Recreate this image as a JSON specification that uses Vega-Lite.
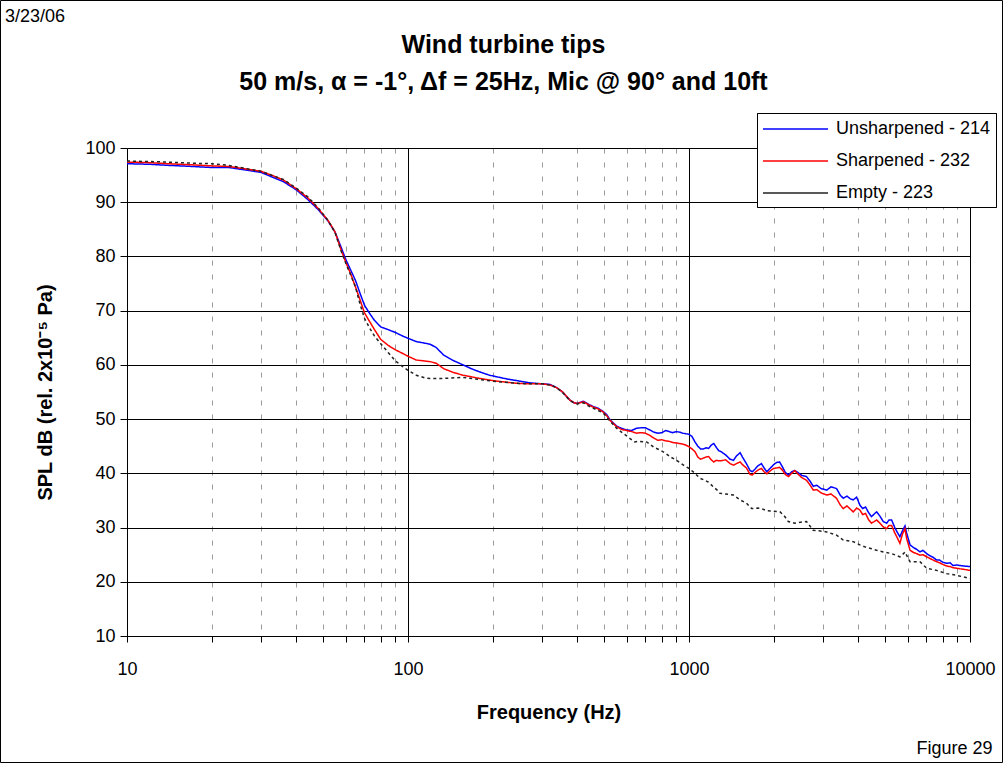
{
 "$schema": "https://vega.github.io/schema/vega-lite/v6.json",
 "width": 843,
 "height": 488,
 "autosize": {"type": "none"},
 "padding": {"left": 127, "top": 148, "right": 33, "bottom": 127},
 "background": "white",
 "config": {"view": {"stroke": null}, "font": "Liberation Sans"},
 "title": {"text": "3/23/06", "anchor": "start", "frame": "group", "dx": -122, "offset": -25, "fontSize": 18, "fontWeight": "normal", "color": "#000", "font": "Liberation Sans"},
 "data": {"values": [
{"s":"Unsharpened - 214","f":10,"dB":97.1},{"s":"Unsharpened - 214","f":12,"dB":97.0},{"s":"Unsharpened - 214","f":14,"dB":96.8},{"s":"Unsharpened - 214","f":17,"dB":96.6},{"s":"Unsharpened - 214","f":20,"dB":96.4},{"s":"Unsharpened - 214","f":23,"dB":96.4},{"s":"Unsharpened - 214","f":26,"dB":96.0},{"s":"Unsharpened - 214","f":30,"dB":95.5},{"s":"Unsharpened - 214","f":33,"dB":94.6},{"s":"Unsharpened - 214","f":36,"dB":93.8},{"s":"Unsharpened - 214","f":40,"dB":92.3},{"s":"Unsharpened - 214","f":44,"dB":90.5},{"s":"Unsharpened - 214","f":48,"dB":88.6},{"s":"Unsharpened - 214","f":52,"dB":86.5},{"s":"Unsharpened - 214","f":55,"dB":84.5},{"s":"Unsharpened - 214","f":58,"dB":81.5},{"s":"Unsharpened - 214","f":60,"dB":79.5},{"s":"Unsharpened - 214","f":62.5,"dB":77.5},{"s":"Unsharpened - 214","f":65,"dB":75.6},{"s":"Unsharpened - 214","f":67.5,"dB":73.2},{"s":"Unsharpened - 214","f":70,"dB":71.0},{"s":"Unsharpened - 214","f":73,"dB":69.5},{"s":"Unsharpened - 214","f":76,"dB":68.2},{"s":"Unsharpened - 214","f":80,"dB":67.0},{"s":"Unsharpened - 214","f":85,"dB":66.5},{"s":"Unsharpened - 214","f":90,"dB":66.0},{"s":"Unsharpened - 214","f":95,"dB":65.4},{"s":"Unsharpened - 214","f":100,"dB":64.9},{"s":"Unsharpened - 214","f":107,"dB":64.3},{"s":"Unsharpened - 214","f":115,"dB":64.0},{"s":"Unsharpened - 214","f":120,"dB":63.8},{"s":"Unsharpened - 214","f":126,"dB":63.2},{"s":"Unsharpened - 214","f":134,"dB":61.8},{"s":"Unsharpened - 214","f":145,"dB":60.8},{"s":"Unsharpened - 214","f":157,"dB":60.0},{"s":"Unsharpened - 214","f":168,"dB":59.3},{"s":"Unsharpened - 214","f":180,"dB":58.7},{"s":"Unsharpened - 214","f":195,"dB":58.1},{"s":"Unsharpened - 214","f":207,"dB":57.8},{"s":"Unsharpened - 214","f":225,"dB":57.4},{"s":"Unsharpened - 214","f":244,"dB":57.1},{"s":"Unsharpened - 214","f":270,"dB":56.7},{"s":"Unsharpened - 214","f":300,"dB":56.5},{"s":"Unsharpened - 214","f":320,"dB":56.4},{"s":"Unsharpened - 214","f":338,"dB":55.8},{"s":"Unsharpened - 214","f":355,"dB":55.0},{"s":"Unsharpened - 214","f":377,"dB":53.5},{"s":"Unsharpened - 214","f":390,"dB":53.0},{"s":"Unsharpened - 214","f":400,"dB":52.9},{"s":"Unsharpened - 214","f":421,"dB":53.3},{"s":"Unsharpened - 214","f":440,"dB":52.7},{"s":"Unsharpened - 214","f":457,"dB":52.3},{"s":"Unsharpened - 214","f":475,"dB":52.0},{"s":"Unsharpened - 214","f":495,"dB":51.4},{"s":"Unsharpened - 214","f":510,"dB":50.8},{"s":"Unsharpened - 214","f":523,"dB":49.9},{"s":"Unsharpened - 214","f":540,"dB":49.2},{"s":"Unsharpened - 214","f":553,"dB":48.7},{"s":"Unsharpened - 214","f":575,"dB":48.3},{"s":"Unsharpened - 214","f":600,"dB":48.0},{"s":"Unsharpened - 214","f":625,"dB":47.9},{"s":"Unsharpened - 214","f":650,"dB":48.3},{"s":"Unsharpened - 214","f":675,"dB":48.4},{"s":"Unsharpened - 214","f":700,"dB":48.4},{"s":"Unsharpened - 214","f":725,"dB":48.0},{"s":"Unsharpened - 214","f":750,"dB":47.6},{"s":"Unsharpened - 214","f":775,"dB":47.4},{"s":"Unsharpened - 214","f":800,"dB":47.5},{"s":"Unsharpened - 214","f":825,"dB":47.9},{"s":"Unsharpened - 214","f":850,"dB":47.7},{"s":"Unsharpened - 214","f":875,"dB":47.5},{"s":"Unsharpened - 214","f":900,"dB":47.7},{"s":"Unsharpened - 214","f":925,"dB":47.6},{"s":"Unsharpened - 214","f":950,"dB":47.4},{"s":"Unsharpened - 214","f":975,"dB":47.3},{"s":"Unsharpened - 214","f":1000,"dB":47.2},{"s":"Unsharpened - 214","f":1025,"dB":46.8},{"s":"Unsharpened - 214","f":1050,"dB":45.8},{"s":"Unsharpened - 214","f":1075,"dB":45.0},{"s":"Unsharpened - 214","f":1100,"dB":44.5},{"s":"Unsharpened - 214","f":1125,"dB":44.5},{"s":"Unsharpened - 214","f":1150,"dB":44.7},{"s":"Unsharpened - 214","f":1175,"dB":44.6},{"s":"Unsharpened - 214","f":1200,"dB":45.2},{"s":"Unsharpened - 214","f":1225,"dB":45.5},{"s":"Unsharpened - 214","f":1250,"dB":44.8},{"s":"Unsharpened - 214","f":1275,"dB":44.2},{"s":"Unsharpened - 214","f":1300,"dB":44.0},{"s":"Unsharpened - 214","f":1350,"dB":43.4},{"s":"Unsharpened - 214","f":1400,"dB":42.6},{"s":"Unsharpened - 214","f":1440,"dB":42.4},{"s":"Unsharpened - 214","f":1475,"dB":43.2},{"s":"Unsharpened - 214","f":1520,"dB":43.8},{"s":"Unsharpened - 214","f":1550,"dB":43.0},{"s":"Unsharpened - 214","f":1600,"dB":41.8},{"s":"Unsharpened - 214","f":1650,"dB":40.5},{"s":"Unsharpened - 214","f":1680,"dB":40.3},{"s":"Unsharpened - 214","f":1720,"dB":40.8},{"s":"Unsharpened - 214","f":1760,"dB":41.4},{"s":"Unsharpened - 214","f":1810,"dB":41.8},{"s":"Unsharpened - 214","f":1850,"dB":41.0},{"s":"Unsharpened - 214","f":1890,"dB":40.3},{"s":"Unsharpened - 214","f":1950,"dB":41.0},{"s":"Unsharpened - 214","f":2000,"dB":41.6},{"s":"Unsharpened - 214","f":2050,"dB":42.0},{"s":"Unsharpened - 214","f":2100,"dB":42.1},{"s":"Unsharpened - 214","f":2150,"dB":41.2},{"s":"Unsharpened - 214","f":2200,"dB":40.2},{"s":"Unsharpened - 214","f":2260,"dB":39.7},{"s":"Unsharpened - 214","f":2320,"dB":40.3},{"s":"Unsharpened - 214","f":2380,"dB":40.5},{"s":"Unsharpened - 214","f":2450,"dB":40.1},{"s":"Unsharpened - 214","f":2520,"dB":39.6},{"s":"Unsharpened - 214","f":2620,"dB":39.4},{"s":"Unsharpened - 214","f":2700,"dB":38.5},{"s":"Unsharpened - 214","f":2770,"dB":37.6},{"s":"Unsharpened - 214","f":2850,"dB":37.8},{"s":"Unsharpened - 214","f":2950,"dB":37.2},{"s":"Unsharpened - 214","f":3090,"dB":36.9},{"s":"Unsharpened - 214","f":3200,"dB":37.5},{"s":"Unsharpened - 214","f":3350,"dB":37.2},{"s":"Unsharpened - 214","f":3450,"dB":36.0},{"s":"Unsharpened - 214","f":3540,"dB":35.4},{"s":"Unsharpened - 214","f":3650,"dB":35.8},{"s":"Unsharpened - 214","f":3750,"dB":35.3},{"s":"Unsharpened - 214","f":3840,"dB":35.1},{"s":"Unsharpened - 214","f":3950,"dB":35.6},{"s":"Unsharpened - 214","f":4060,"dB":34.1},{"s":"Unsharpened - 214","f":4150,"dB":33.5},{"s":"Unsharpened - 214","f":4250,"dB":33.8},{"s":"Unsharpened - 214","f":4350,"dB":32.8},{"s":"Unsharpened - 214","f":4460,"dB":32.0},{"s":"Unsharpened - 214","f":4560,"dB":32.5},{"s":"Unsharpened - 214","f":4655,"dB":32.9},{"s":"Unsharpened - 214","f":4780,"dB":32.1},{"s":"Unsharpened - 214","f":4915,"dB":31.1},{"s":"Unsharpened - 214","f":5050,"dB":30.8},{"s":"Unsharpened - 214","f":5150,"dB":31.4},{"s":"Unsharpened - 214","f":5260,"dB":31.4},{"s":"Unsharpened - 214","f":5400,"dB":30.0},{"s":"Unsharpened - 214","f":5500,"dB":29.2},{"s":"Unsharpened - 214","f":5630,"dB":28.3},{"s":"Unsharpened - 214","f":5750,"dB":29.4},{"s":"Unsharpened - 214","f":5870,"dB":30.3},{"s":"Unsharpened - 214","f":5950,"dB":29.0},{"s":"Unsharpened - 214","f":6120,"dB":26.8},{"s":"Unsharpened - 214","f":6300,"dB":26.3},{"s":"Unsharpened - 214","f":6450,"dB":26.0},{"s":"Unsharpened - 214","f":6640,"dB":25.5},{"s":"Unsharpened - 214","f":6800,"dB":25.8},{"s":"Unsharpened - 214","f":7010,"dB":25.2},{"s":"Unsharpened - 214","f":7200,"dB":24.8},{"s":"Unsharpened - 214","f":7400,"dB":24.5},{"s":"Unsharpened - 214","f":7610,"dB":24.0},{"s":"Unsharpened - 214","f":7800,"dB":24.0},{"s":"Unsharpened - 214","f":8000,"dB":23.6},{"s":"Unsharpened - 214","f":8260,"dB":23.4},{"s":"Unsharpened - 214","f":8500,"dB":23.5},{"s":"Unsharpened - 214","f":8700,"dB":23.0},{"s":"Unsharpened - 214","f":8960,"dB":23.1},{"s":"Unsharpened - 214","f":9200,"dB":23.0},{"s":"Unsharpened - 214","f":9500,"dB":22.9},{"s":"Unsharpened - 214","f":10000,"dB":22.8},
{"s":"Sharpened - 232","f":10,"dB":97.4},{"s":"Sharpened - 232","f":12,"dB":97.3},{"s":"Sharpened - 232","f":14,"dB":97.1},{"s":"Sharpened - 232","f":17,"dB":96.9},{"s":"Sharpened - 232","f":20,"dB":96.7},{"s":"Sharpened - 232","f":23,"dB":96.6},{"s":"Sharpened - 232","f":26,"dB":96.2},{"s":"Sharpened - 232","f":30,"dB":95.7},{"s":"Sharpened - 232","f":33,"dB":94.9},{"s":"Sharpened - 232","f":36,"dB":94.1},{"s":"Sharpened - 232","f":40,"dB":92.5},{"s":"Sharpened - 232","f":44,"dB":90.8},{"s":"Sharpened - 232","f":48,"dB":88.8},{"s":"Sharpened - 232","f":52,"dB":86.6},{"s":"Sharpened - 232","f":55,"dB":84.5},{"s":"Sharpened - 232","f":58,"dB":81.0},{"s":"Sharpened - 232","f":60,"dB":79.0},{"s":"Sharpened - 232","f":62.5,"dB":76.8},{"s":"Sharpened - 232","f":65,"dB":74.4},{"s":"Sharpened - 232","f":67.5,"dB":72.0},{"s":"Sharpened - 232","f":70,"dB":69.6},{"s":"Sharpened - 232","f":73,"dB":68.0},{"s":"Sharpened - 232","f":76,"dB":66.5},{"s":"Sharpened - 232","f":80,"dB":64.7},{"s":"Sharpened - 232","f":85,"dB":63.6},{"s":"Sharpened - 232","f":90,"dB":62.8},{"s":"Sharpened - 232","f":95,"dB":62.2},{"s":"Sharpened - 232","f":100,"dB":61.6},{"s":"Sharpened - 232","f":107,"dB":60.9},{"s":"Sharpened - 232","f":115,"dB":60.7},{"s":"Sharpened - 232","f":120,"dB":60.6},{"s":"Sharpened - 232","f":126,"dB":60.3},{"s":"Sharpened - 232","f":134,"dB":59.3},{"s":"Sharpened - 232","f":145,"dB":58.6},{"s":"Sharpened - 232","f":157,"dB":58.1},{"s":"Sharpened - 232","f":168,"dB":57.8},{"s":"Sharpened - 232","f":180,"dB":57.5},{"s":"Sharpened - 232","f":195,"dB":57.2},{"s":"Sharpened - 232","f":207,"dB":57.0},{"s":"Sharpened - 232","f":225,"dB":56.8},{"s":"Sharpened - 232","f":244,"dB":56.6},{"s":"Sharpened - 232","f":270,"dB":56.5},{"s":"Sharpened - 232","f":300,"dB":56.5},{"s":"Sharpened - 232","f":320,"dB":56.3},{"s":"Sharpened - 232","f":338,"dB":55.8},{"s":"Sharpened - 232","f":355,"dB":55.0},{"s":"Sharpened - 232","f":377,"dB":53.5},{"s":"Sharpened - 232","f":390,"dB":53.0},{"s":"Sharpened - 232","f":400,"dB":52.9},{"s":"Sharpened - 232","f":421,"dB":53.2},{"s":"Sharpened - 232","f":440,"dB":52.6},{"s":"Sharpened - 232","f":457,"dB":52.2},{"s":"Sharpened - 232","f":475,"dB":51.9},{"s":"Sharpened - 232","f":495,"dB":51.3},{"s":"Sharpened - 232","f":510,"dB":50.6},{"s":"Sharpened - 232","f":523,"dB":49.8},{"s":"Sharpened - 232","f":540,"dB":49.1},{"s":"Sharpened - 232","f":553,"dB":48.6},{"s":"Sharpened - 232","f":575,"dB":48.1},{"s":"Sharpened - 232","f":600,"dB":47.9},{"s":"Sharpened - 232","f":625,"dB":47.7},{"s":"Sharpened - 232","f":650,"dB":47.4},{"s":"Sharpened - 232","f":675,"dB":47.5},{"s":"Sharpened - 232","f":700,"dB":47.4},{"s":"Sharpened - 232","f":725,"dB":47.0},{"s":"Sharpened - 232","f":750,"dB":46.5},{"s":"Sharpened - 232","f":775,"dB":46.1},{"s":"Sharpened - 232","f":800,"dB":46.2},{"s":"Sharpened - 232","f":825,"dB":46.0},{"s":"Sharpened - 232","f":850,"dB":45.9},{"s":"Sharpened - 232","f":875,"dB":45.7},{"s":"Sharpened - 232","f":900,"dB":45.6},{"s":"Sharpened - 232","f":925,"dB":45.5},{"s":"Sharpened - 232","f":950,"dB":45.4},{"s":"Sharpened - 232","f":975,"dB":45.2},{"s":"Sharpened - 232","f":1000,"dB":44.9},{"s":"Sharpened - 232","f":1025,"dB":44.5},{"s":"Sharpened - 232","f":1050,"dB":44.0},{"s":"Sharpened - 232","f":1075,"dB":43.0},{"s":"Sharpened - 232","f":1100,"dB":42.6},{"s":"Sharpened - 232","f":1125,"dB":42.8},{"s":"Sharpened - 232","f":1150,"dB":43.0},{"s":"Sharpened - 232","f":1175,"dB":43.1},{"s":"Sharpened - 232","f":1200,"dB":42.5},{"s":"Sharpened - 232","f":1225,"dB":42.1},{"s":"Sharpened - 232","f":1250,"dB":42.4},{"s":"Sharpened - 232","f":1275,"dB":42.3},{"s":"Sharpened - 232","f":1300,"dB":42.3},{"s":"Sharpened - 232","f":1350,"dB":42.5},{"s":"Sharpened - 232","f":1400,"dB":41.8},{"s":"Sharpened - 232","f":1440,"dB":41.5},{"s":"Sharpened - 232","f":1475,"dB":41.8},{"s":"Sharpened - 232","f":1520,"dB":42.1},{"s":"Sharpened - 232","f":1550,"dB":41.6},{"s":"Sharpened - 232","f":1600,"dB":41.0},{"s":"Sharpened - 232","f":1650,"dB":39.8},{"s":"Sharpened - 232","f":1680,"dB":39.7},{"s":"Sharpened - 232","f":1720,"dB":40.2},{"s":"Sharpened - 232","f":1760,"dB":40.6},{"s":"Sharpened - 232","f":1810,"dB":40.9},{"s":"Sharpened - 232","f":1850,"dB":40.3},{"s":"Sharpened - 232","f":1890,"dB":39.9},{"s":"Sharpened - 232","f":1950,"dB":40.5},{"s":"Sharpened - 232","f":2000,"dB":40.9},{"s":"Sharpened - 232","f":2050,"dB":41.0},{"s":"Sharpened - 232","f":2100,"dB":41.1},{"s":"Sharpened - 232","f":2150,"dB":40.6},{"s":"Sharpened - 232","f":2200,"dB":39.8},{"s":"Sharpened - 232","f":2260,"dB":39.4},{"s":"Sharpened - 232","f":2320,"dB":40.0},{"s":"Sharpened - 232","f":2380,"dB":40.5},{"s":"Sharpened - 232","f":2450,"dB":39.8},{"s":"Sharpened - 232","f":2520,"dB":39.2},{"s":"Sharpened - 232","f":2620,"dB":38.7},{"s":"Sharpened - 232","f":2700,"dB":37.8},{"s":"Sharpened - 232","f":2770,"dB":36.9},{"s":"Sharpened - 232","f":2850,"dB":37.0},{"s":"Sharpened - 232","f":2950,"dB":36.4},{"s":"Sharpened - 232","f":3090,"dB":36.0},{"s":"Sharpened - 232","f":3200,"dB":36.2},{"s":"Sharpened - 232","f":3350,"dB":35.4},{"s":"Sharpened - 232","f":3450,"dB":34.2},{"s":"Sharpened - 232","f":3540,"dB":33.5},{"s":"Sharpened - 232","f":3650,"dB":34.0},{"s":"Sharpened - 232","f":3750,"dB":33.4},{"s":"Sharpened - 232","f":3840,"dB":32.9},{"s":"Sharpened - 232","f":3950,"dB":33.6},{"s":"Sharpened - 232","f":4060,"dB":33.2},{"s":"Sharpened - 232","f":4150,"dB":32.4},{"s":"Sharpened - 232","f":4250,"dB":32.6},{"s":"Sharpened - 232","f":4350,"dB":31.5},{"s":"Sharpened - 232","f":4460,"dB":30.8},{"s":"Sharpened - 232","f":4560,"dB":31.1},{"s":"Sharpened - 232","f":4655,"dB":31.4},{"s":"Sharpened - 232","f":4780,"dB":30.8},{"s":"Sharpened - 232","f":4915,"dB":30.1},{"s":"Sharpened - 232","f":5050,"dB":29.8},{"s":"Sharpened - 232","f":5150,"dB":30.4},{"s":"Sharpened - 232","f":5260,"dB":30.4},{"s":"Sharpened - 232","f":5400,"dB":29.0},{"s":"Sharpened - 232","f":5500,"dB":28.2},{"s":"Sharpened - 232","f":5630,"dB":27.1},{"s":"Sharpened - 232","f":5750,"dB":28.8},{"s":"Sharpened - 232","f":5870,"dB":29.8},{"s":"Sharpened - 232","f":5950,"dB":28.0},{"s":"Sharpened - 232","f":6120,"dB":25.8},{"s":"Sharpened - 232","f":6300,"dB":25.4},{"s":"Sharpened - 232","f":6450,"dB":25.2},{"s":"Sharpened - 232","f":6640,"dB":24.9},{"s":"Sharpened - 232","f":6800,"dB":25.0},{"s":"Sharpened - 232","f":7010,"dB":24.6},{"s":"Sharpened - 232","f":7200,"dB":24.3},{"s":"Sharpened - 232","f":7400,"dB":24.0},{"s":"Sharpened - 232","f":7610,"dB":23.7},{"s":"Sharpened - 232","f":7800,"dB":23.5},{"s":"Sharpened - 232","f":8000,"dB":23.2},{"s":"Sharpened - 232","f":8260,"dB":22.9},{"s":"Sharpened - 232","f":8500,"dB":22.8},{"s":"Sharpened - 232","f":8700,"dB":22.6},{"s":"Sharpened - 232","f":8960,"dB":22.5},{"s":"Sharpened - 232","f":9200,"dB":22.4},{"s":"Sharpened - 232","f":9500,"dB":22.3},{"s":"Sharpened - 232","f":10000,"dB":22.1},
{"s":"Empty - 223","f":10,"dB":97.6},{"s":"Empty - 223","f":12,"dB":97.5},{"s":"Empty - 223","f":14,"dB":97.4},{"s":"Empty - 223","f":17,"dB":97.2},{"s":"Empty - 223","f":20,"dB":97.1},{"s":"Empty - 223","f":23,"dB":96.8},{"s":"Empty - 223","f":26,"dB":96.3},{"s":"Empty - 223","f":30,"dB":95.7},{"s":"Empty - 223","f":33,"dB":94.9},{"s":"Empty - 223","f":36,"dB":94.2},{"s":"Empty - 223","f":40,"dB":92.6},{"s":"Empty - 223","f":44,"dB":91.0},{"s":"Empty - 223","f":48,"dB":88.9},{"s":"Empty - 223","f":52,"dB":86.6},{"s":"Empty - 223","f":55,"dB":84.4},{"s":"Empty - 223","f":58,"dB":80.8},{"s":"Empty - 223","f":60,"dB":78.8},{"s":"Empty - 223","f":62.5,"dB":76.6},{"s":"Empty - 223","f":65,"dB":74.4},{"s":"Empty - 223","f":67.5,"dB":71.2},{"s":"Empty - 223","f":70,"dB":68.6},{"s":"Empty - 223","f":73,"dB":66.8},{"s":"Empty - 223","f":76,"dB":65.3},{"s":"Empty - 223","f":80,"dB":63.9},{"s":"Empty - 223","f":85,"dB":62.3},{"s":"Empty - 223","f":90,"dB":60.8},{"s":"Empty - 223","f":95,"dB":59.8},{"s":"Empty - 223","f":100,"dB":59.0},{"s":"Empty - 223","f":107,"dB":58.1},{"s":"Empty - 223","f":115,"dB":57.6},{"s":"Empty - 223","f":120,"dB":57.5},{"s":"Empty - 223","f":134,"dB":57.5},{"s":"Empty - 223","f":157,"dB":57.7},{"s":"Empty - 223","f":180,"dB":57.3},{"s":"Empty - 223","f":207,"dB":56.9},{"s":"Empty - 223","f":244,"dB":56.6},{"s":"Empty - 223","f":270,"dB":56.5},{"s":"Empty - 223","f":300,"dB":56.5},{"s":"Empty - 223","f":320,"dB":56.3},{"s":"Empty - 223","f":338,"dB":55.8},{"s":"Empty - 223","f":355,"dB":54.9},{"s":"Empty - 223","f":377,"dB":53.4},{"s":"Empty - 223","f":390,"dB":53.0},{"s":"Empty - 223","f":400,"dB":52.8},{"s":"Empty - 223","f":421,"dB":53.0},{"s":"Empty - 223","f":440,"dB":52.4},{"s":"Empty - 223","f":457,"dB":52.0},{"s":"Empty - 223","f":475,"dB":51.6},{"s":"Empty - 223","f":495,"dB":51.1},{"s":"Empty - 223","f":510,"dB":50.4},{"s":"Empty - 223","f":523,"dB":49.6},{"s":"Empty - 223","f":540,"dB":48.9},{"s":"Empty - 223","f":553,"dB":48.3},{"s":"Empty - 223","f":575,"dB":47.6},{"s":"Empty - 223","f":600,"dB":46.9},{"s":"Empty - 223","f":617,"dB":46.4},{"s":"Empty - 223","f":640,"dB":45.8},{"s":"Empty - 223","f":665,"dB":45.9},{"s":"Empty - 223","f":690,"dB":45.8},{"s":"Empty - 223","f":707,"dB":45.8},{"s":"Empty - 223","f":725,"dB":45.4},{"s":"Empty - 223","f":750,"dB":44.8},{"s":"Empty - 223","f":788,"dB":44.3},{"s":"Empty - 223","f":820,"dB":43.8},{"s":"Empty - 223","f":860,"dB":43.0},{"s":"Empty - 223","f":904,"dB":42.4},{"s":"Empty - 223","f":950,"dB":41.6},{"s":"Empty - 223","f":1000,"dB":40.9},{"s":"Empty - 223","f":1050,"dB":40.0},{"s":"Empty - 223","f":1094,"dB":39.1},{"s":"Empty - 223","f":1130,"dB":38.8},{"s":"Empty - 223","f":1171,"dB":38.4},{"s":"Empty - 223","f":1221,"dB":37.5},{"s":"Empty - 223","f":1260,"dB":36.9},{"s":"Empty - 223","f":1290,"dB":36.3},{"s":"Empty - 223","f":1350,"dB":36.2},{"s":"Empty - 223","f":1439,"dB":36.0},{"s":"Empty - 223","f":1519,"dB":35.1},{"s":"Empty - 223","f":1600,"dB":34.5},{"s":"Empty - 223","f":1671,"dB":33.5},{"s":"Empty - 223","f":1750,"dB":33.6},{"s":"Empty - 223","f":1813,"dB":33.5},{"s":"Empty - 223","f":1888,"dB":33.1},{"s":"Empty - 223","f":2000,"dB":33.0},{"s":"Empty - 223","f":2107,"dB":32.9},{"s":"Empty - 223","f":2180,"dB":32.2},{"s":"Empty - 223","f":2256,"dB":31.1},{"s":"Empty - 223","f":2382,"dB":30.8},{"s":"Empty - 223","f":2500,"dB":31.0},{"s":"Empty - 223","f":2620,"dB":31.1},{"s":"Empty - 223","f":2767,"dB":29.5},{"s":"Empty - 223","f":2900,"dB":29.4},{"s":"Empty - 223","f":3088,"dB":29.2},{"s":"Empty - 223","f":3352,"dB":28.6},{"s":"Empty - 223","f":3541,"dB":27.7},{"s":"Empty - 223","f":3843,"dB":27.4},{"s":"Empty - 223","f":4059,"dB":26.8},{"s":"Empty - 223","f":4250,"dB":26.4},{"s":"Empty - 223","f":4464,"dB":26.1},{"s":"Empty - 223","f":4655,"dB":25.8},{"s":"Empty - 223","f":4915,"dB":25.5},{"s":"Empty - 223","f":5260,"dB":25.2},{"s":"Empty - 223","f":5634,"dB":24.6},{"s":"Empty - 223","f":5750,"dB":25.0},{"s":"Empty - 223","f":5873,"dB":25.5},{"s":"Empty - 223","f":6000,"dB":24.5},{"s":"Empty - 223","f":6116,"dB":23.7},{"s":"Empty - 223","f":6637,"dB":23.7},{"s":"Empty - 223","f":7013,"dB":22.5},{"s":"Empty - 223","f":7609,"dB":22.1},{"s":"Empty - 223","f":8257,"dB":21.5},{"s":"Empty - 223","f":8957,"dB":21.2},{"s":"Empty - 223","f":10000,"dB":20.6}
 ]},
 "layer": [
  {
   "mark": {"type": "line", "strokeWidth": 1.5, "clip": true},
   "encoding": {
    "x": {"field": "f", "type": "quantitative",
      "scale": {"type": "log", "domain": [10, 10000], "nice": false},
      "axis": {"orient": "bottom", "values": [10,20,30,40,50,60,70,80,90,100,200,300,400,500,600,700,800,900,1000,2000,3000,4000,5000,6000,7000,8000,9000,10000],
        "format": "d",
        "labelExpr": "datum.value == 10 || datum.value == 100 || datum.value == 1000 || datum.value == 10000 ? datum.label : ''",
        "labelFontSize": 18, "labelColor": "#000", "labelPadding": 18, "labelOverlap": false, "labelFlush": false, "labelFont": "Liberation Sans",
        "tickSize": 6, "tickColor": "#000", "domainColor": "#000",
        "grid": true,
        "gridColor": {"condition": {"test": "datum.value == 100 || datum.value == 1000 || datum.value == 10000", "value": "#000"}, "value": "#9a9a9a"},
        "gridDash": {"condition": {"test": "datum.value == 100 || datum.value == 1000 || datum.value == 10000", "value": []}, "value": [5, 9]},
        "gridOpacity": 1,
        "title": "Frequency (Hz)", "titleFontSize": 20, "titleFontWeight": "bold", "titleColor": "#000", "titleFont": "Liberation Sans", "titleY": 76, "titleBaseline": "middle"}},
    "y": {"field": "dB", "type": "quantitative",
      "scale": {"domain": [10, 100], "nice": false, "zero": false},
      "axis": {"orient": "left", "values": [10,20,30,40,50,60,70,80,90,100],
        "labelFontSize": 18, "labelColor": "#000", "labelPadding": 5, "labelFont": "Liberation Sans", "labelOverlap": false,
        "tickSize": 7, "tickColor": "#000", "domainColor": "#000",
        "grid": true, "gridColor": "#000", "gridOpacity": 1,
        "title": "SPL dB (rel. 2x10⁻⁵ Pa)", "titleFontSize": 20, "titleFontWeight": "bold", "titleColor": "#000", "titleFont": "Liberation Sans",
        "titleX": -82, "titleY": 244, "titleAlign": "center", "titleBaseline": "middle", "titleAngle": -90}},
    "color": {"field": "s", "type": "nominal",
      "scale": {"domain": ["Unsharpened - 214", "Sharpened - 232", "Empty - 223"], "range": ["#0000ff", "#ff0000", "#222222"]},
      "legend": {"orient": "none", "legendX": 630, "legendY": -35, "title": null, "strokeColor": "#000", "fillColor": "#fff", "padding": 5,
        "symbolType": "M-1,0H5.5", "symbolSize": 400, "symbolStrokeWidth": 1.5, "labelFontSize": 18, "labelFont": "Liberation Sans", "labelColor": "#000", "labelOffset": 52, "rowPadding": 12}},
    "strokeDash": {"field": "s", "type": "nominal",
      "scale": {"domain": ["Unsharpened - 214", "Sharpened - 232", "Empty - 223"], "range": [[1, 0], [1, 0], [3, 3]]},
      "legend": {"orient": "none", "legendX": 630, "legendY": -35, "title": null, "strokeColor": "#000", "fillColor": "#fff", "padding": 5,
        "symbolType": "M-1,0H5.5", "symbolSize": 400, "symbolStrokeWidth": 1.5, "labelFontSize": 18, "labelFont": "Liberation Sans", "labelColor": "#000", "labelOffset": 52, "rowPadding": 12}}
   }
  },
  {
   "mark": {"type": "point", "opacity": 0},
   "encoding": {
    "x": {"field": "f", "type": "quantitative",
      "axis": {"orient": "top", "title": ["Wind turbine tips", "50 m/s, α = -1°, Δf = 25Hz, Mic @ 90° and 10ft"],
        "domain": false, "ticks": false, "labels": false, "grid": false,
        "titleX": 376, "titleY": -116, "titleAlign": "center", "titleBaseline": "top", "titleFontSize": 25, "titleFontWeight": "bold", "titleColor": "#000", "titleFont": "Liberation Sans", "titleLineHeight": 37}},
    "y": {"field": "dB", "type": "quantitative",
      "axis": {"orient": "right", "title": "Figure 29", "domain": false, "ticks": false, "labels": false, "grid": false,
        "titleAngle": 0, "titleX": 22, "titleY": 600, "titleAlign": "right", "titleBaseline": "middle", "titleFontSize": 18, "titleFontWeight": "normal", "titleColor": "#000", "titleFont": "Liberation Sans"}},
    "color": {"field": "dB", "type": "quantitative",
      "scale": {"range": ["rgba(255,255,255,0)", "rgba(255,255,255,0)"]},
      "legend": {"orient": "none", "legendX": -126.5, "legendY": -147.5, "direction": "horizontal", "gradientLength": 1002, "gradientThickness": 762,
        "gradientStrokeColor": "#000", "gradientStrokeWidth": 1, "labelOpacity": 0, "labelExpr": "''", "labelFontSize": 1, "title": null, "padding": 0}}
   }
  }
 ],
 "resolve": {"axis": {"x": "independent", "y": "independent"}, "scale": {"color": "independent"}, "legend": {"color": "independent"}}
}
